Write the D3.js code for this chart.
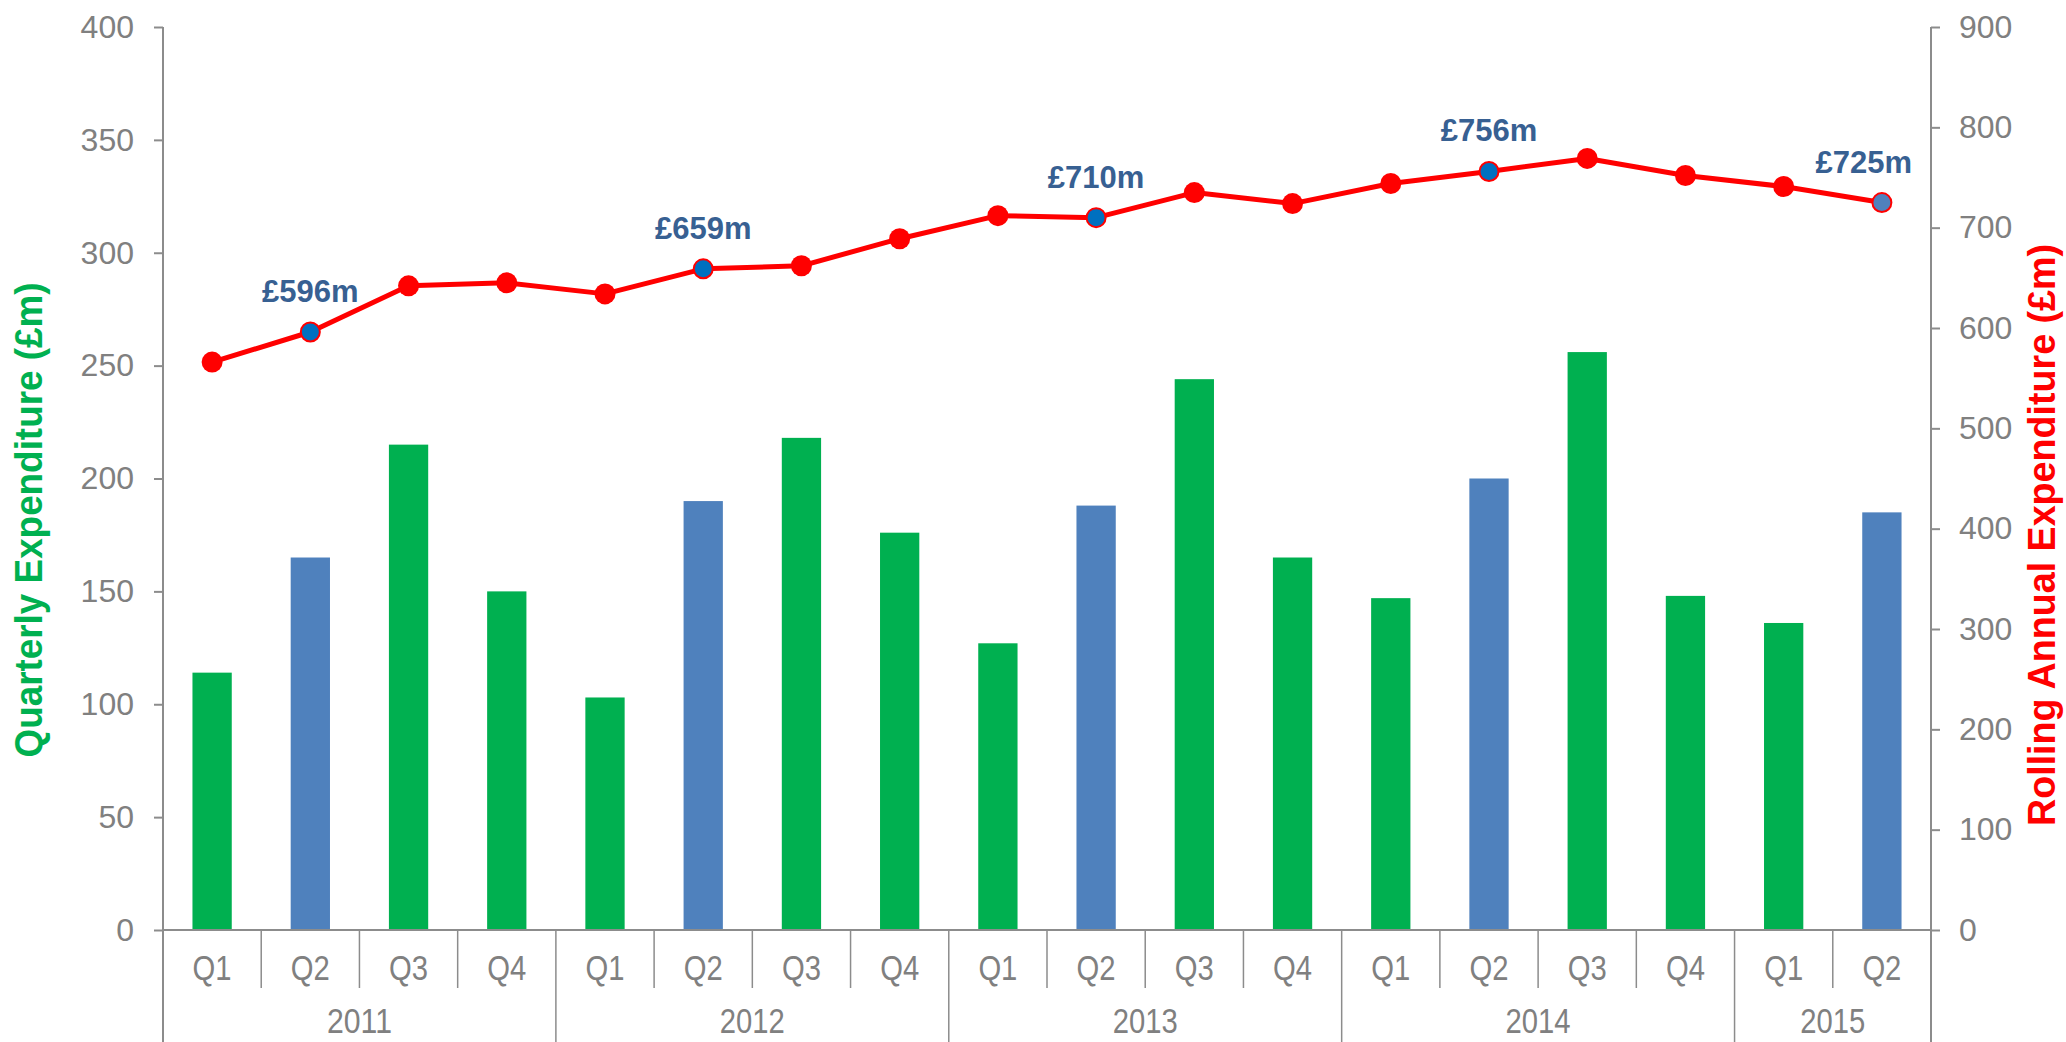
<!DOCTYPE html>
<html>
<head>
<meta charset="utf-8">
<script src="https://cdn.jsdelivr.net/npm/d3@7"></script>
<style>
  html, body { margin: 0; padding: 0; background: #ffffff; }
  svg { display: block; }
  text { font-family: "Liberation Sans", Arial, Helvetica, sans-serif; }
</style>
</head>
<body>
<svg id="chart" width="2066" height="1042"></svg>
<script>
// ---- data ----
const quarters = ["Q1","Q2","Q3","Q4","Q1","Q2","Q3","Q4","Q1","Q2","Q3","Q4","Q1","Q2","Q3","Q4","Q1","Q2"];
const yearLabels = ["2011","2012","2013","2014","2015"];
const quartersPerYear = [4, 4, 4, 4, 2];
const quarterlyExpenditure = [114,165,215,150,103,190,218,176,127,188,244,165,147,200,256,148,136,185];
const rollingAnnual = [566,596,642,645,634,659,662,689,712,710,735,724,744,756,769,752,741,725];
const leftTicks = [0,50,100,150,200,250,300,350,400];
const rightTicks = [0,100,200,300,400,500,600,700,800,900];
const leftTitle = "Quarterly Expenditure (£m)";
const rightTitle = "Rolling Annual Expenditure (£m)";

(function () {
// ---- style ----
const GREEN = "#00b050", BLUE = "#4f81bd", RED = "#ff0000", DARKBLUE = "#0070c0";
const AXIS = "#8c8c8c", LABEL = "#808080", ANNOT = "#376092";

const svg = d3.select("#chart");
svg.append("rect").attr("width", 2066).attr("height", 1042).attr("fill", "#fff");

const pL = 163, pR = 1931, pT = 27, pB = 930;
const idx = quarters.map((d, i) => i);

const x = d3.scaleBand().domain(idx).range([pL, pR]).paddingInner(0.6).paddingOuter(0.3);
const yL = d3.scaleLinear().domain([0, 400]).range([pB, pT]);
const yR = d3.scaleLinear().domain([0, 900]).range([pB, pT]);

// bars
svg.append("g").selectAll("rect").data(quarterlyExpenditure).join("rect")
  .attr("x", (d, i) => x(i))
  .attr("width", x.bandwidth())
  .attr("y", d => yL(d))
  .attr("height", d => yL(0) - yL(d))
  .attr("fill", (d, i) => quarters[i] === "Q2" ? BLUE : GREEN);

// left axis
const gL = svg.append("g").attr("transform", `translate(${pL},0)`)
  .call(d3.axisLeft(yL).tickValues(leftTicks).tickSize(9).tickPadding(20).tickSizeOuter(0));
gL.select(".domain").remove();
gL.selectAll(".tick line").attr("stroke", AXIS).attr("stroke-width", 2);
gL.selectAll(".tick text").attr("fill", LABEL).style("font-size", "32px")
  .style("font-family", '"Liberation Sans", Arial, sans-serif');

// right axis
const gR = svg.append("g").attr("transform", `translate(${pR},0)`)
  .call(d3.axisRight(yR).tickValues(rightTicks).tickSize(9).tickPadding(19).tickSizeOuter(0));
gR.select(".domain").remove();
gR.selectAll(".tick line").attr("stroke", AXIS).attr("stroke-width", 2);
gR.selectAll(".tick text").attr("fill", LABEL).style("font-size", "32px")
  .style("font-family", '"Liberation Sans", Arial, sans-serif');

// vertical axis lines (extend down through category area)
svg.append("line").attr("x1", pL).attr("x2", pL).attr("y1", pT).attr("y2", 1042)
  .attr("stroke", AXIS).attr("stroke-width", 2);
svg.append("line").attr("x1", pR).attr("x2", pR).attr("y1", pT).attr("y2", 1042)
  .attr("stroke", AXIS).attr("stroke-width", 2);
// horizontal category axis
svg.append("line").attr("x1", pL).attr("x2", pR).attr("y1", pB).attr("y2", pB)
  .attr("stroke", AXIS).attr("stroke-width", 2);

// category separators
const step = x.step();
const boundary = i => x(i) - (step - x.bandwidth()) / 2;
const yearStarts = [];
let acc = 0;
quartersPerYear.forEach(n => { yearStarts.push(acc); acc += n; });
const gC = svg.append("g");
idx.forEach(i => {
  if (i === 0) return;
  const isYear = yearStarts.includes(i);
  const bx = boundary(i);
  gC.append("line").attr("x1", bx).attr("x2", bx).attr("y1", pB)
    .attr("y2", isYear ? 1042 : 988).attr("stroke", AXIS).attr("stroke-width", 1.5);
});
// quarter labels
gC.selectAll("text.q").data(quarters).join("text").attr("class", "q")
  .attr("x", (d, i) => x(i) + x.bandwidth() / 2)
  .attr("y", 980)
  .attr("text-anchor", "middle")
  .attr("fill", LABEL)
  .style("font-size", "35px")
  .attr("textLength", 39).attr("lengthAdjust", "spacingAndGlyphs")
  .text(d => d);
// year labels
gC.selectAll("text.y").data(yearLabels).join("text").attr("class", "y")
  .attr("x", (d, k) => {
    const s = yearStarts[k], e = s + quartersPerYear[k];
    const x0 = boundary(s), x1 = e >= quarters.length ? pR : boundary(e);
    return (x0 + x1) / 2;
  })
  .attr("y", 1033)
  .attr("text-anchor", "middle")
  .attr("fill", LABEL)
  .style("font-size", "35px")
  .attr("textLength", 65).attr("lengthAdjust", "spacingAndGlyphs")
  .text(d => d);

// line
const cx = i => x(i) + x.bandwidth() / 2;
svg.append("path").datum(rollingAnnual)
  .attr("fill", "none").attr("stroke", RED).attr("stroke-width", 5).attr("stroke-linejoin", "round")
  .attr("d", d3.line().x((d, i) => cx(i)).y(d => yR(d)));

// markers
svg.append("g").selectAll("circle").data(rollingAnnual).join("circle")
  .attr("cx", (d, i) => cx(i))
  .attr("cy", d => yR(d))
  .attr("r", (d, i) => quarters[i] === "Q2" ? 9.5 : 10.5)
  .attr("fill", (d, i) => quarters[i] === "Q2" ? (i === quarters.length - 1 ? BLUE : DARKBLUE) : RED)
  .attr("stroke", RED).attr("stroke-width", (d, i) => quarters[i] === "Q2" ? 2 : 0);

// annotations on Q2 points
const gA = svg.append("g");
rollingAnnual.forEach((v, i) => {
  if (quarters[i] !== "Q2") return;
  const t = gA.append("text")
    .attr("y", yR(v) - 30)
    .attr("text-anchor", "middle")
    .attr("fill", ANNOT)
    .style("font-size", "31px").style("font-weight", "bold")
    .text("£" + v + "m");
  const w = t.node().getComputedTextLength();
  t.attr("x", Math.min(cx(i), pR - 19 - w / 2));
});

// axis titles
svg.append("text")
  .attr("transform", `translate(42,520) rotate(-90)`)
  .attr("text-anchor", "middle")
  .attr("fill", GREEN)
  .style("font-size", "39px").style("font-weight", "bold")
  .attr("textLength", 475).attr("lengthAdjust", "spacingAndGlyphs")
  .text(leftTitle);
svg.append("text")
  .attr("transform", `translate(2055,535) rotate(-90)`)
  .attr("text-anchor", "middle")
  .attr("fill", RED)
  .style("font-size", "39px").style("font-weight", "bold")
  .attr("textLength", 582).attr("lengthAdjust", "spacingAndGlyphs")
  .text(rightTitle);
})();
</script>
</body>
</html>
